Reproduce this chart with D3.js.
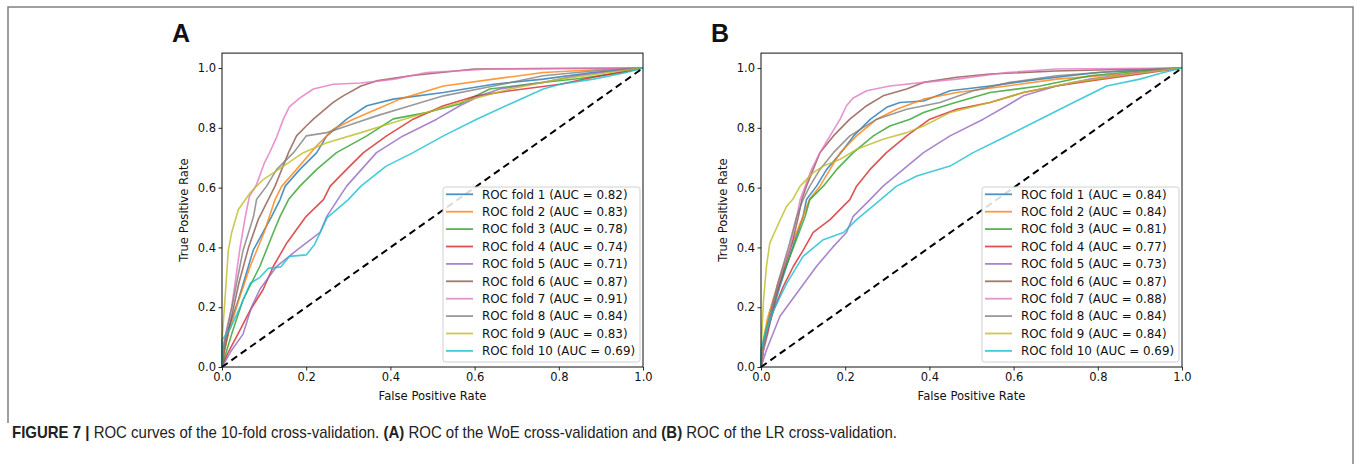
<!DOCTYPE html>
<html>
<head>
<meta charset="utf-8">
<script src="https://cdn.jsdelivr.net/npm/d3@7"></script>
<style>
  body { margin: 0; background: #fff; }
  svg text { font-family: "DejaVu Sans", sans-serif; }
</style>
</head>
<body>
<svg id="canvas" width="1354" height="464"></svg>
<script>
// Etiquetas de los pliegues
const pliegues = ["ROC fold 1", "ROC fold 2", "ROC fold 3", "ROC fold 4", "ROC fold 5",
                  "ROC fold 6", "ROC fold 7", "ROC fold 8", "ROC fold 9", "ROC fold 10"];
const aucA = ["0.82", "0.83", "0.78", "0.74", "0.71", "0.87", "0.91", "0.84", "0.83", "0.69"];
const aucB = ["0.84", "0.84", "0.81", "0.77", "0.73", "0.87", "0.88", "0.84", "0.84", "0.69"];
const colores = ["#1f77b4", "#ff7f0e", "#2ca02c", "#d62728", "#9467bd",
                 "#8c564b", "#e377c2", "#7f7f7f", "#bcbd22", "#17becf"];
const ticks = [0, 0.2, 0.4, 0.6, 0.8, 1.0];

// Curvas ROC: [fpr, tpr]
const curvasA = [
  [[0,0],[0,0.05],[0.011,0.11],[0.039,0.225],[0.074,0.39],[0.118,0.504],[0.138,0.56],[0.15,0.605],[0.185,0.661],[0.225,0.717],[0.249,0.773],[0.296,0.829],[0.344,0.874],[0.407,0.896],[0.526,0.918],[0.645,0.946],[0.763,0.963],[0.88,0.985],[1,1]],
  [[0,0],[0.005,0.05],[0.015,0.11],[0.04,0.225],[0.067,0.337],[0.1,0.45],[0.126,0.56],[0.142,0.605],[0.177,0.661],[0.225,0.74],[0.264,0.795],[0.312,0.829],[0.367,0.862],[0.423,0.896],[0.526,0.94],[0.645,0.963],[0.763,0.985],[0.9,0.995],[1,1]],
  [[0,0],[0.01,0.05],[0.023,0.11],[0.05,0.225],[0.09,0.337],[0.122,0.45],[0.138,0.504],[0.158,0.56],[0.185,0.605],[0.225,0.661],[0.272,0.717],[0.344,0.773],[0.407,0.83],[0.486,0.851],[0.565,0.88],[0.636,0.93],[0.75,0.95],[0.85,0.965],[0.95,0.985],[1,1]],
  [[0,0],[0.015,0.05],[0.039,0.113],[0.067,0.19],[0.098,0.26],[0.122,0.337],[0.154,0.415],[0.2,0.504],[0.241,0.56],[0.257,0.605],[0.296,0.661],[0.336,0.717],[0.391,0.773],[0.454,0.829],[0.526,0.874],[0.605,0.907],[0.684,0.924],[0.803,0.946],[0.882,0.969],[0.96,0.99],[1,1]],
  [[0,0],[0.02,0.05],[0.05,0.11],[0.07,0.2],[0.09,0.26],[0.13,0.337],[0.177,0.39],[0.233,0.45],[0.249,0.504],[0.296,0.605],[0.367,0.717],[0.43,0.773],[0.51,0.829],[0.565,0.874],[0.613,0.907],[0.66,0.93],[0.763,0.952],[0.842,0.974],[0.93,0.99],[1,1]],
  [[0,0],[0.005,0.05],[0.02,0.15],[0.04,0.28],[0.063,0.4],[0.086,0.493],[0.106,0.549],[0.126,0.605],[0.142,0.661],[0.158,0.717],[0.177,0.773],[0.2,0.806],[0.217,0.829],[0.264,0.885],[0.288,0.907],[0.33,0.94],[0.367,0.957],[0.447,0.974],[0.6,0.997],[1,1]],
  [[0,0],[0,0.05],[0.01,0.12],[0.023,0.2],[0.035,0.32],[0.043,0.4],[0.055,0.5],[0.065,0.57],[0.082,0.61],[0.1,0.68],[0.114,0.72],[0.13,0.77],[0.146,0.83],[0.16,0.87],[0.185,0.9],[0.217,0.93],[0.264,0.946],[0.33,0.95],[0.41,0.963],[0.486,0.985],[0.64,0.997],[1,1]],
  [[0,0],[0.003,0.05],[0.007,0.09],[0.027,0.225],[0.05,0.39],[0.075,0.504],[0.082,0.56],[0.106,0.605],[0.13,0.661],[0.17,0.717],[0.2,0.773],[0.249,0.784],[0.296,0.806],[0.367,0.84],[0.447,0.874],[0.526,0.907],[0.645,0.94],[0.763,0.974],[0.88,0.99],[1,1]],
  [[0,0],[0,0.09],[0.007,0.225],[0.015,0.39],[0.023,0.45],[0.039,0.527],[0.067,0.583],[0.098,0.627],[0.146,0.672],[0.193,0.717],[0.249,0.75],[0.33,0.784],[0.407,0.818],[0.486,0.851],[0.565,0.885],[0.684,0.93],[0.803,0.963],[0.92,0.985],[1,1]],
  [[0,0],[0,0.09],[0.02,0.13],[0.043,0.2],[0.067,0.28],[0.09,0.3],[0.11,0.33],[0.14,0.335],[0.16,0.37],[0.2,0.375],[0.22,0.41],[0.25,0.5],[0.3,0.56],[0.33,0.605],[0.39,0.672],[0.454,0.717],[0.526,0.773],[0.605,0.829],[0.692,0.885],[0.763,0.93],[0.803,0.946],[0.882,0.963],[0.96,0.985],[1,1]]
];

const curvasB = [
  [[0,0],[0.005,0.06],[0.02,0.15],[0.045,0.27],[0.075,0.4],[0.1,0.504],[0.108,0.56],[0.132,0.605],[0.156,0.661],[0.19,0.717],[0.22,0.773],[0.26,0.829],[0.3,0.87],[0.33,0.885],[0.386,0.89],[0.449,0.924],[0.544,0.94],[0.663,0.963],[0.8,0.985],[1,1]],
  [[0,0],[0.003,0.07],[0.015,0.16],[0.04,0.28],[0.07,0.4],[0.1,0.504],[0.115,0.56],[0.14,0.605],[0.164,0.661],[0.188,0.717],[0.227,0.773],[0.275,0.829],[0.322,0.862],[0.386,0.896],[0.465,0.918],[0.584,0.94],[0.702,0.963],[0.86,0.98],[1,1]],
  [[0,0],[0.003,0.06],[0.01,0.113],[0.03,0.225],[0.055,0.32],[0.077,0.4],[0.105,0.504],[0.116,0.56],[0.148,0.605],[0.18,0.661],[0.219,0.717],[0.267,0.773],[0.306,0.806],[0.354,0.829],[0.386,0.851],[0.45,0.88],[0.544,0.918],[0.663,0.94],[0.781,0.974],[0.9,0.99],[1,1]],
  [[0,0],[0.005,0.06],[0.013,0.113],[0.03,0.19],[0.053,0.27],[0.077,0.337],[0.1,0.39],[0.124,0.45],[0.164,0.493],[0.211,0.56],[0.227,0.605],[0.259,0.661],[0.298,0.717],[0.346,0.773],[0.401,0.829],[0.465,0.862],[0.544,0.885],[0.623,0.918],[0.702,0.94],[0.781,0.957],[0.9,0.98],[1,1]],
  [[0,0],[0.013,0.057],[0.045,0.17],[0.085,0.247],[0.132,0.337],[0.17,0.4],[0.203,0.45],[0.219,0.504],[0.259,0.56],[0.29,0.605],[0.338,0.661],[0.386,0.717],[0.449,0.773],[0.528,0.829],[0.584,0.874],[0.623,0.907],[0.702,0.94],[0.781,0.963],[0.9,0.985],[1,1]],
  [[0,0],[0.005,0.05],[0.016,0.113],[0.033,0.225],[0.055,0.33],[0.075,0.42],[0.089,0.504],[0.097,0.56],[0.108,0.605],[0.14,0.717],[0.172,0.773],[0.211,0.829],[0.251,0.874],[0.29,0.907],[0.346,0.93],[0.386,0.952],[0.465,0.969],[0.544,0.98],[0.7,0.99],[1,1]],
  [[0,0],[0.005,0.05],[0.013,0.113],[0.03,0.225],[0.05,0.32],[0.069,0.4],[0.085,0.504],[0.093,0.56],[0.105,0.605],[0.12,0.661],[0.14,0.717],[0.164,0.773],[0.188,0.829],[0.203,0.874],[0.219,0.9],[0.251,0.924],[0.306,0.94],[0.386,0.952],[0.465,0.963],[0.584,0.985],[0.702,0.997],[1,1]],
  [[0,0],[0.005,0.06],[0.02,0.16],[0.04,0.28],[0.065,0.4],[0.085,0.504],[0.1,0.56],[0.116,0.605],[0.14,0.661],[0.172,0.717],[0.211,0.773],[0.275,0.829],[0.346,0.862],[0.425,0.885],[0.504,0.924],[0.591,0.952],[0.702,0.974],[0.85,0.99],[1,1]],
  [[0,0],[0.002,0.11],[0.006,0.225],[0.013,0.337],[0.021,0.415],[0.045,0.49],[0.061,0.538],[0.075,0.56],[0.093,0.605],[0.124,0.65],[0.148,0.672],[0.188,0.695],[0.227,0.728],[0.29,0.762],[0.346,0.784],[0.386,0.806],[0.449,0.851],[0.544,0.885],[0.623,0.918],[0.742,0.952],[0.88,0.98],[1,1]],
  [[0,0],[0,0.057],[0.01,0.113],[0.03,0.19],[0.061,0.28],[0.1,0.37],[0.148,0.426],[0.196,0.45],[0.227,0.493],[0.275,0.549],[0.322,0.605],[0.37,0.639],[0.449,0.672],[0.504,0.717],[0.584,0.773],[0.663,0.829],[0.742,0.885],[0.821,0.94],[0.9,0.963],[0.956,0.985],[1,1]]
];

const svg = d3.select("#canvas");

// Marco exterior de la figura
svg.append("path")
    .attr("d", "M8,423 L8,7 L1353,7 L1353,464")
    .attr("fill", "none")
    .attr("stroke", "#808080")
    .attr("stroke-width", 1.5);

function dibujarPanel(izq, letra, curvas, aucs) {
    const x = d3.scaleLinear().domain([0, 1]).range([izq, izq + 421]);
    const y = d3.scaleLinear().domain([0, 1.05]).range([367, 53.1]);
    const g = svg.append("g");

    // Letra del panel
    g.append("text")
        .attr("x", izq - 50)
        .attr("y", 42)
        .style("font-family", "'Liberation Sans', Arial, sans-serif")
        .attr("font-weight", "bold")
        .attr("font-size", 25)
        .attr("fill", "#111")
        .text(letra);

    // Ejes
    const ejeX = g.append("g")
        .attr("transform", "translate(0,367)")
        .call(d3.axisBottom(x).tickValues(ticks).tickFormat(d3.format(".1f")).tickSize(3.5).tickPadding(2.5));
    const ejeY = g.append("g")
        .attr("transform", `translate(${izq},0)`)
        .call(d3.axisLeft(y).tickValues(ticks).tickFormat(d3.format(".1f")).tickSize(3.5).tickPadding(2.5));
    [ejeX, ejeY].forEach(e => {
        e.select(".domain").remove();
        e.selectAll("line").attr("stroke", "#111").attr("stroke-width", 0.9);
        e.selectAll("text").attr("font-size", 11.5).attr("fill", "#111");
    });

    // Curvas
    const linea = d3.line().x(d => x(d[0])).y(d => y(d[1]));
    curvas.forEach((c, i) => {
        g.append("path")
            .attr("d", linea(c))
            .attr("fill", "none")
            .attr("stroke", colores[i])
            .attr("stroke-opacity", 0.8)
            .attr("stroke-width", 1.6)
            .attr("stroke-linejoin", "round");
    });

    // Diagonal de azar
    g.append("path")
        .attr("d", linea([[0, 0], [1, 1]]))
        .attr("fill", "none")
        .attr("stroke", "#000")
        .attr("stroke-width", 2)
        .attr("stroke-dasharray", "7,4.5");

    // Recuadro del área
    g.append("rect")
        .attr("x", izq).attr("y", 53.1)
        .attr("width", 421).attr("height", 367 - 53.1)
        .attr("fill", "none")
        .attr("stroke", "#111")
        .attr("stroke-width", 1);

    // Leyenda
    const lx = izq + 221, ly = 187;
    g.append("rect")
        .attr("x", lx).attr("y", ly)
        .attr("width", 197).attr("height", 175)
        .attr("rx", 2.5)
        .attr("fill", "#fff")
        .attr("fill-opacity", 0.85)
        .attr("stroke", "#d0d0d0")
        .attr("stroke-width", 1);
    pliegues.forEach((p, i) => {
        const yy = ly + 7.3 + i * 17.4;
        g.append("line")
            .attr("x1", lx + 3).attr("x2", lx + 30)
            .attr("y1", yy).attr("y2", yy)
            .attr("stroke", colores[i])
            .attr("stroke-opacity", 0.8)
            .attr("stroke-width", 1.8);
        g.append("text")
            .attr("x", lx + 39).attr("y", yy + 4.3)
            .attr("font-size", 11.9)
            .attr("fill", "#111")
            .text(`${p} (AUC = ${aucs[i]})`);
    });

    // Títulos de ejes
    g.append("text")
        .attr("x", izq + 210.5).attr("y", 400)
        .attr("text-anchor", "middle")
        .attr("font-size", 11.6)
        .attr("fill", "#111")
        .text("False Positive Rate");
    g.append("text")
        .attr("transform", `translate(${izq - 34},210) rotate(-90)`)
        .attr("text-anchor", "middle")
        .attr("font-size", 11.6)
        .attr("fill", "#111")
        .text("True Positive Rate");
}

dibujarPanel(222, "A", curvasA, aucA);
dibujarPanel(761, "B", curvasB, aucB);

// Pie de figura (fuente estrechada a lo ancho de la referencia)
const pie = svg.append("text")
    .attr("x", 0).attr("y", 0)
    .style("font-family", "'Liberation Sans', Arial, sans-serif")
    .attr("font-size", 16)
    .attr("fill", "#222");
pie.append("tspan").attr("font-weight", "bold").text("FIGURE 7");
pie.append("tspan").attr("font-weight", "bold").text(" | ");
pie.append("tspan").text("ROC curves of the 10-fold cross-validation. ");
pie.append("tspan").attr("font-weight", "bold").text("(A)");
pie.append("tspan").text(" ROC of the WoE cross-validation and ");
pie.append("tspan").attr("font-weight", "bold").text("(B)");
pie.append("tspan").text(" ROC of the LR cross-validation.");
const anchoPie = pie.node().getComputedTextLength();
pie.attr("transform", `translate(12,438) scale(${885 / anchoPie},1)`);
</script>
</body>
</html>
